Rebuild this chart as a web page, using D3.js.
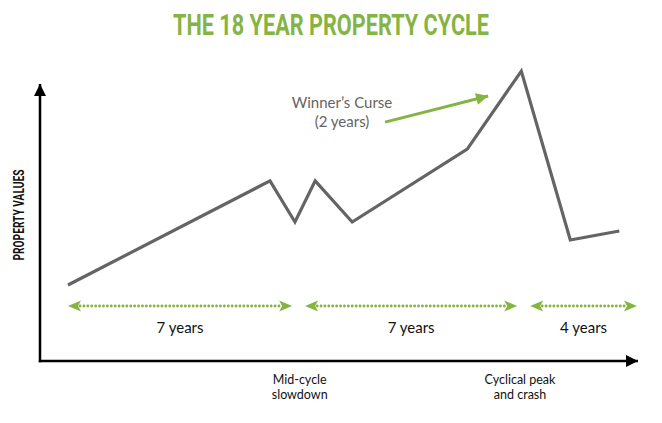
<!DOCTYPE html>
<html><head><meta charset="utf-8">
<script src="https://cdn.jsdelivr.net/npm/d3@7"></script>
<style>body{margin:0;background:#fff}svg{display:block}</style>
</head><body>
<script>
// ---- data ----
const title = "THE 18 YEAR PROPERTY CYCLE";
const yLabel = "PROPERTY VALUES";
// cycle line: time in years, property value index
const cycleYears  = [0, 6.39, 7.18, 7.82, 8.99, 12.63, 14.34, 15.89, 17.44];
const cycleValues = [25, 59.7, 46, 59.7, 46, 70.3, 96.3, 40, 43];
// phase spans (years)
const phaseStart  = [0, 7.5, 14.62];
const phaseEnd    = [7.09, 14.21, 18.0];
const phaseLabels = ["7 years", "7 years", "4 years"];
// event annotations below x-axis
const eventYears  = [7.33, 14.3];
const eventLabels = [["Mid-cycle", "slowdown"], ["Cyclical peak", "and crash"]];
// winner's curse callout
const curseLabel = ["Winner\u2019s Curse", "(2 years)"];
const curseFrom = [10.03, 79.3];
const curseTo   = [13.29, 88];

const W = 662, H = 423;
const green = "#86b443", gray = "#646464";
const svg = d3.select("body").append("svg").attr("width", W).attr("height", H);

const x = d3.scaleLinear().domain([0, 18]).range([68, 637]);
const y = d3.scaleLinear().domain([0, 100]).range([360, 60]);

const defs = svg.append("defs");
function marker(id, color, w, h) {
  defs.append("marker").attr("id", id).attr("viewBox", "0 0 10 10")
    .attr("refX", 10).attr("refY", 5).attr("markerWidth", w).attr("markerHeight", h)
    .attr("markerUnits", "userSpaceOnUse").attr("orient", "auto-start-reverse")
    .append("path").attr("d", "M0,0L10,5L0,10z").attr("fill", color);
}
marker("ax", "#000", 14, 12);
marker("cu", green, 16, 12);

// title
svg.append("text").attr("x", 331).attr("y", 35).attr("text-anchor", "middle")
  .attr("font-family", "Roboto").attr("font-weight", 700).attr("font-size", 29)
  .attr("fill", green).attr("textLength", 316).attr("lengthAdjust", "spacingAndGlyphs")
  .text(title);

// axes
const ox = 40, oy = 361;
svg.append("line").attr("x1", ox).attr("y1", oy + 1.2).attr("x2", ox).attr("y2", 84)
  .attr("stroke", "#000").attr("stroke-width", 2.5).attr("marker-end", "url(#ax)");
svg.append("line").attr("x1", ox - 1.2).attr("y1", oy).attr("x2", 638).attr("y2", oy)
  .attr("stroke", "#000").attr("stroke-width", 2.5).attr("marker-end", "url(#ax)");

// y label
svg.append("text").attr("transform", "translate(24,215) rotate(-90)").attr("text-anchor", "middle")
  .attr("font-family", "Roboto").attr("font-weight", 700).attr("font-size", 15)
  .attr("fill", "#111").attr("textLength", 91).attr("lengthAdjust", "spacingAndGlyphs")
  .text(yLabel);

// cycle line
const pts = cycleYears.map((t, i) => [t, cycleValues[i]]);
svg.append("path").datum(pts)
  .attr("d", d3.line().x(d => x(d[0])).y(d => y(d[1])))
  .attr("fill", "none").attr("stroke", gray).attr("stroke-width", 3.2).attr("stroke-linejoin", "miter");

// phase arrows
const py = 306;
phaseStart.forEach((s, i) => {
  const x1 = x(s), x2 = x(phaseEnd[i]);
  svg.append("line").attr("x1", x1 + 12).attr("x2", x2 - 12).attr("y1", py).attr("y2", py)
    .attr("stroke", green).attr("stroke-width", 2.8).attr("stroke-linecap", "round")
    .attr("stroke-dasharray", "0.1 3.8");
  svg.append("path").attr("d", `M${x1},${py}L${x1+13},${py-5.5}L${x1+10},${py}L${x1+13},${py+5.5}Z`).attr("fill", green);
  svg.append("path").attr("d", `M${x2},${py}L${x2-13},${py-5.5}L${x2-10},${py}L${x2-13},${py+5.5}Z`).attr("fill", green);
  svg.append("text").attr("x", (x1 + x2) / 2).attr("y", 333).attr("text-anchor", "middle")
    .attr("font-family", "Lato").attr("font-size", 15).attr("fill", "#111").text(phaseLabels[i]);
});

// event labels
eventYears.forEach((t, i) => {
  eventLabels[i].forEach((l, j) => {
    svg.append("text").attr("x", x(t)).attr("y", 384 + j * 15).attr("text-anchor", "middle")
      .attr("font-family", "Lato").attr("font-size", 12.5).attr("fill", "#111").text(l);
  });
});

// winner's curse
curseLabel.forEach((l, j) => {
  svg.append("text").attr("x", 342).attr("y", 108 + j * 19).attr("text-anchor", "middle")
    .attr("font-family", "Lato").attr("font-size", 15).attr("fill", gray).text(l);
});
svg.append("line").attr("x1", x(curseFrom[0])).attr("y1", y(curseFrom[1]))
  .attr("x2", x(curseTo[0])).attr("y2", y(curseTo[1]))
  .attr("stroke", green).attr("stroke-width", 3).attr("marker-end", "url(#cu)");
</script>
</body></html>
